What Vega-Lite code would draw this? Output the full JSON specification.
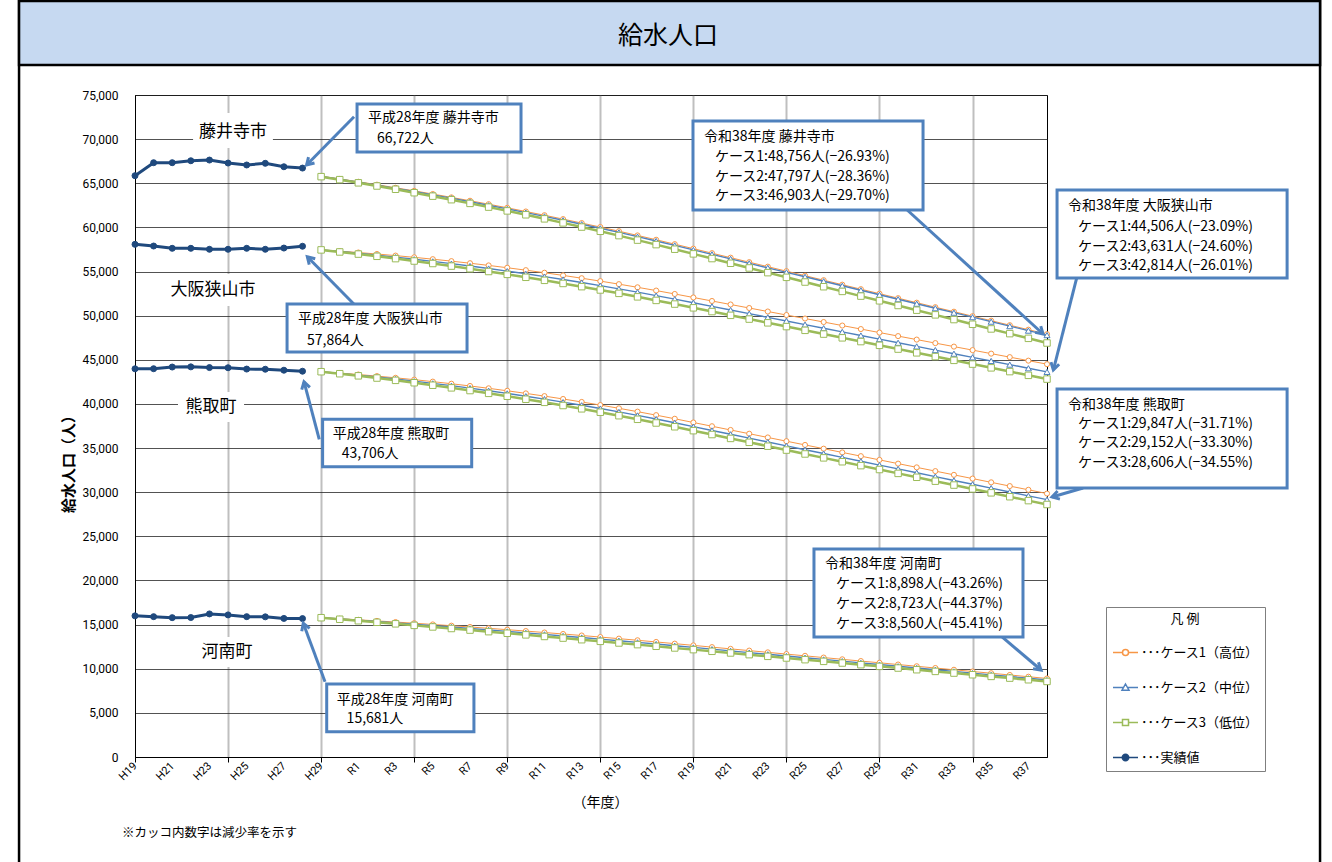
{
"$schema": "https://vega.github.io/schema/vega-lite/v6.json",
"width": 912, "height": 662,
"autosize": {"type": "none"},
"padding": {"left": 135, "top": 95, "right": 285, "bottom": 105},
"background": "white",
"config": {"font": "Noto Sans CJK JP", "view": {"stroke": "black", "strokeWidth": 1}},
"resolve": {"axis": {"x": "independent", "y": "independent"}, "legend": {"stroke": "independent", "fill": "independent", "shape": "independent"}},
"datasets": {
"pop": [
{"i":0,"city":"藤井寺市","series":"実績値","v":65860},{"i":1,"city":"藤井寺市","series":"実績値","v":67330},{"i":2,"city":"藤井寺市","series":"実績値","v":67330},{"i":3,"city":"藤井寺市","series":"実績値","v":67550},{"i":4,"city":"藤井寺市","series":"実績値","v":67630},{"i":5,"city":"藤井寺市","series":"実績値","v":67290},{"i":6,"city":"藤井寺市","series":"実績値","v":67070},{"i":7,"city":"藤井寺市","series":"実績値","v":67260},{"i":8,"city":"藤井寺市","series":"実績値","v":66870},{"i":9,"city":"藤井寺市","series":"実績値","v":66722},
{"i":0,"city":"大阪狭山市","series":"実績値","v":58080},{"i":1,"city":"大阪狭山市","series":"実績値","v":57890},{"i":2,"city":"大阪狭山市","series":"実績値","v":57630},{"i":3,"city":"大阪狭山市","series":"実績値","v":57630},{"i":4,"city":"大阪狭山市","series":"実績値","v":57520},{"i":5,"city":"大阪狭山市","series":"実績値","v":57520},{"i":6,"city":"大阪狭山市","series":"実績値","v":57630},{"i":7,"city":"大阪狭山市","series":"実績値","v":57520},{"i":8,"city":"大阪狭山市","series":"実績値","v":57660},{"i":9,"city":"大阪狭山市","series":"実績値","v":57864},
{"i":0,"city":"熊取町","series":"実績値","v":43980},{"i":1,"city":"熊取町","series":"実績値","v":43990},{"i":2,"city":"熊取町","series":"実績値","v":44180},{"i":3,"city":"熊取町","series":"実績値","v":44200},{"i":4,"city":"熊取町","series":"実績値","v":44120},{"i":5,"city":"熊取町","series":"実績値","v":44100},{"i":6,"city":"熊取町","series":"実績値","v":43950},{"i":7,"city":"熊取町","series":"実績値","v":43930},{"i":8,"city":"熊取町","series":"実績値","v":43820},{"i":9,"city":"熊取町","series":"実績値","v":43706},
{"i":0,"city":"河南町","series":"実績値","v":15990},{"i":1,"city":"河南町","series":"実績値","v":15900},{"i":2,"city":"河南町","series":"実績値","v":15790},{"i":3,"city":"河南町","series":"実績値","v":15800},{"i":4,"city":"河南町","series":"実績値","v":16210},{"i":5,"city":"河南町","series":"実績値","v":16100},{"i":6,"city":"河南町","series":"実績値","v":15900},{"i":7,"city":"河南町","series":"実績値","v":15880},{"i":8,"city":"河南町","series":"実績値","v":15700},{"i":9,"city":"河南町","series":"実績値","v":15681},
{"i":10,"city":"藤井寺市","series":"ケース1","v":65800},{"i":11,"city":"藤井寺市","series":"ケース1","v":65490},{"i":12,"city":"藤井寺市","series":"ケース1","v":65170},{"i":13,"city":"藤井寺市","series":"ケース1","v":64840},{"i":14,"city":"藤井寺市","series":"ケース1","v":64490},{"i":15,"city":"藤井寺市","series":"ケース1","v":64140},{"i":16,"city":"藤井寺市","series":"ケース1","v":63780},{"i":17,"city":"藤井寺市","series":"ケース1","v":63400},{"i":18,"city":"藤井寺市","series":"ケース1","v":63020},{"i":19,"city":"藤井寺市","series":"ケース1","v":62630},{"i":20,"city":"藤井寺市","series":"ケース1","v":62220},{"i":21,"city":"藤井寺市","series":"ケース1","v":61800},{"i":22,"city":"藤井寺市","series":"ケース1","v":61380},{"i":23,"city":"藤井寺市","series":"ケース1","v":60940},{"i":24,"city":"藤井寺市","series":"ケース1","v":60490},{"i":25,"city":"藤井寺市","series":"ケース1","v":60040},{"i":26,"city":"藤井寺市","series":"ケース1","v":59570},{"i":27,"city":"藤井寺市","series":"ケース1","v":59090},{"i":28,"city":"藤井寺市","series":"ケース1","v":58600},{"i":29,"city":"藤井寺市","series":"ケース1","v":58100},{"i":30,"city":"藤井寺市","series":"ケース1","v":57590},{"i":31,"city":"藤井寺市","series":"ケース1","v":57080},{"i":32,"city":"藤井寺市","series":"ケース1","v":56570},{"i":33,"city":"藤井寺市","series":"ケース1","v":56060},{"i":34,"city":"藤井寺市","series":"ケース1","v":55550},{"i":35,"city":"藤井寺市","series":"ケース1","v":55040},{"i":36,"city":"藤井寺市","series":"ケース1","v":54530},{"i":37,"city":"藤井寺市","series":"ケース1","v":54020},{"i":38,"city":"藤井寺市","series":"ケース1","v":53510},{"i":39,"city":"藤井寺市","series":"ケース1","v":53000},{"i":40,"city":"藤井寺市","series":"ケース1","v":52490},{"i":41,"city":"藤井寺市","series":"ケース1","v":51980},{"i":42,"city":"藤井寺市","series":"ケース1","v":51470},{"i":43,"city":"藤井寺市","series":"ケース1","v":50960},{"i":44,"city":"藤井寺市","series":"ケース1","v":50450},{"i":45,"city":"藤井寺市","series":"ケース1","v":49940},{"i":46,"city":"藤井寺市","series":"ケース1","v":49430},{"i":47,"city":"藤井寺市","series":"ケース1","v":48920},{"i":48,"city":"藤井寺市","series":"ケース1","v":48410},{"i":49,"city":"藤井寺市","series":"ケース1","v":47900},
{"i":10,"city":"藤井寺市","series":"ケース2","v":65780},{"i":11,"city":"藤井寺市","series":"ケース2","v":65460},{"i":12,"city":"藤井寺市","series":"ケース2","v":65120},{"i":13,"city":"藤井寺市","series":"ケース2","v":64780},{"i":14,"city":"藤井寺市","series":"ケース2","v":64420},{"i":15,"city":"藤井寺市","series":"ケース2","v":64060},{"i":16,"city":"藤井寺市","series":"ケース2","v":63690},{"i":17,"city":"藤井寺市","series":"ケース2","v":63310},{"i":18,"city":"藤井寺市","series":"ケース2","v":62910},{"i":19,"city":"藤井寺市","series":"ケース2","v":62510},{"i":20,"city":"藤井寺市","series":"ケース2","v":62100},{"i":21,"city":"藤井寺市","series":"ケース2","v":61680},{"i":22,"city":"藤井寺市","series":"ケース2","v":61250},{"i":23,"city":"藤井寺市","series":"ケース2","v":60810},{"i":24,"city":"藤井寺市","series":"ケース2","v":60360},{"i":25,"city":"藤井寺市","series":"ケース2","v":59900},{"i":26,"city":"藤井寺市","series":"ケース2","v":59430},{"i":27,"city":"藤井寺市","series":"ケース2","v":58950},{"i":28,"city":"藤井寺市","series":"ケース2","v":58460},{"i":29,"city":"藤井寺市","series":"ケース2","v":57960},{"i":30,"city":"藤井寺市","series":"ケース2","v":57450},{"i":31,"city":"藤井寺市","series":"ケース2","v":56945},{"i":32,"city":"藤井寺市","series":"ケース2","v":56437},{"i":33,"city":"藤井寺市","series":"ケース2","v":55928},{"i":34,"city":"藤井寺市","series":"ケース2","v":55420},{"i":35,"city":"藤井寺市","series":"ケース2","v":54912},{"i":36,"city":"藤井寺市","series":"ケース2","v":54404},{"i":37,"city":"藤井寺市","series":"ケース2","v":53896},{"i":38,"city":"藤井寺市","series":"ケース2","v":53387},{"i":39,"city":"藤井寺市","series":"ケース2","v":52879},{"i":40,"city":"藤井寺市","series":"ケース2","v":52371},{"i":41,"city":"藤井寺市","series":"ケース2","v":51863},{"i":42,"city":"藤井寺市","series":"ケース2","v":51355},{"i":43,"city":"藤井寺市","series":"ケース2","v":50846},{"i":44,"city":"藤井寺市","series":"ケース2","v":50338},{"i":45,"city":"藤井寺市","series":"ケース2","v":49830},{"i":46,"city":"藤井寺市","series":"ケース2","v":49322},{"i":47,"city":"藤井寺市","series":"ケース2","v":48814},{"i":48,"city":"藤井寺市","series":"ケース2","v":48305},{"i":49,"city":"藤井寺市","series":"ケース2","v":47797},
{"i":10,"city":"藤井寺市","series":"ケース3","v":65750},{"i":11,"city":"藤井寺市","series":"ケース3","v":65410},{"i":12,"city":"藤井寺市","series":"ケース3","v":65050},{"i":13,"city":"藤井寺市","series":"ケース3","v":64690},{"i":14,"city":"藤井寺市","series":"ケース3","v":64320},{"i":15,"city":"藤井寺市","series":"ケース3","v":63930},{"i":16,"city":"藤井寺市","series":"ケース3","v":63540},{"i":17,"city":"藤井寺市","series":"ケース3","v":63140},{"i":18,"city":"藤井寺市","series":"ケース3","v":62720},{"i":19,"city":"藤井寺市","series":"ケース3","v":62300},{"i":20,"city":"藤井寺市","series":"ケース3","v":61870},{"i":21,"city":"藤井寺市","series":"ケース3","v":61430},{"i":22,"city":"藤井寺市","series":"ケース3","v":60970},{"i":23,"city":"藤井寺市","series":"ケース3","v":60510},{"i":24,"city":"藤井寺市","series":"ケース3","v":60040},{"i":25,"city":"藤井寺市","series":"ケース3","v":59560},{"i":26,"city":"藤井寺市","series":"ケース3","v":59070},{"i":27,"city":"藤井寺市","series":"ケース3","v":58560},{"i":28,"city":"藤井寺市","series":"ケース3","v":58050},{"i":29,"city":"藤井寺市","series":"ケース3","v":57530},{"i":30,"city":"藤井寺市","series":"ケース3","v":57000},{"i":31,"city":"藤井寺市","series":"ケース3","v":56469},{"i":32,"city":"藤井寺市","series":"ケース3","v":55937},{"i":33,"city":"藤井寺市","series":"ケース3","v":55406},{"i":34,"city":"藤井寺市","series":"ケース3","v":54874},{"i":35,"city":"藤井寺市","series":"ケース3","v":54343},{"i":36,"city":"藤井寺市","series":"ケース3","v":53811},{"i":37,"city":"藤井寺市","series":"ケース3","v":53280},{"i":38,"city":"藤井寺市","series":"ケース3","v":52748},{"i":39,"city":"藤井寺市","series":"ケース3","v":52217},{"i":40,"city":"藤井寺市","series":"ケース3","v":51685},{"i":41,"city":"藤井寺市","series":"ケース3","v":51154},{"i":42,"city":"藤井寺市","series":"ケース3","v":50622},{"i":43,"city":"藤井寺市","series":"ケース3","v":50091},{"i":44,"city":"藤井寺市","series":"ケース3","v":49559},{"i":45,"city":"藤井寺市","series":"ケース3","v":49028},{"i":46,"city":"藤井寺市","series":"ケース3","v":48496},{"i":47,"city":"藤井寺市","series":"ケース3","v":47965},{"i":48,"city":"藤井寺市","series":"ケース3","v":47433},{"i":49,"city":"藤井寺市","series":"ケース3","v":46903},
{"i":10,"city":"大阪狭山市","series":"ケース1","v":57450},{"i":11,"city":"大阪狭山市","series":"ケース1","v":57309},{"i":12,"city":"大阪狭山市","series":"ケース1","v":57154},{"i":13,"city":"大阪狭山市","series":"ケース1","v":56986},{"i":14,"city":"大阪狭山市","series":"ケース1","v":56804},{"i":15,"city":"大阪狭山市","series":"ケース1","v":56609},{"i":16,"city":"大阪狭山市","series":"ケース1","v":56400},{"i":17,"city":"大阪狭山市","series":"ケース1","v":56178},{"i":18,"city":"大阪狭山市","series":"ケース1","v":55942},{"i":19,"city":"大阪狭山市","series":"ケース1","v":55693},{"i":20,"city":"大阪狭山市","series":"ケース1","v":55430},{"i":21,"city":"大阪狭山市","series":"ケース1","v":55154},{"i":22,"city":"大阪狭山市","series":"ケース1","v":54864},{"i":23,"city":"大阪狭山市","series":"ケース1","v":54561},{"i":24,"city":"大阪狭山市","series":"ケース1","v":54244},{"i":25,"city":"大阪狭山市","series":"ケース1","v":53914},{"i":26,"city":"大阪狭山市","series":"ケース1","v":53571},{"i":27,"city":"大阪狭山市","series":"ケース1","v":53213},{"i":28,"city":"大阪狭山市","series":"ケース1","v":52843},{"i":29,"city":"大阪狭山市","series":"ケース1","v":52459},{"i":30,"city":"大阪狭山市","series":"ケース1","v":52061},{"i":31,"city":"大阪狭山市","series":"ケース1","v":51663},{"i":32,"city":"大阪狭山市","series":"ケース1","v":51266},{"i":33,"city":"大阪狭山市","series":"ケース1","v":50868},{"i":34,"city":"大阪狭山市","series":"ケース1","v":50471},{"i":35,"city":"大阪狭山市","series":"ケース1","v":50073},{"i":36,"city":"大阪狭山市","series":"ケース1","v":49675},{"i":37,"city":"大阪狭山市","series":"ケース1","v":49278},{"i":38,"city":"大阪狭山市","series":"ケース1","v":48880},{"i":39,"city":"大阪狭山市","series":"ケース1","v":48483},{"i":40,"city":"大阪狭山市","series":"ケース1","v":48085},{"i":41,"city":"大阪狭山市","series":"ケース1","v":47687},{"i":42,"city":"大阪狭山市","series":"ケース1","v":47290},{"i":43,"city":"大阪狭山市","series":"ケース1","v":46892},{"i":44,"city":"大阪狭山市","series":"ケース1","v":46495},{"i":45,"city":"大阪狭山市","series":"ケース1","v":46097},{"i":46,"city":"大阪狭山市","series":"ケース1","v":45699},{"i":47,"city":"大阪狭山市","series":"ケース1","v":45302},{"i":48,"city":"大阪狭山市","series":"ケース1","v":44904},{"i":49,"city":"大阪狭山市","series":"ケース1","v":44506},
{"i":10,"city":"大阪狭山市","series":"ケース2","v":57450},{"i":11,"city":"大阪狭山市","series":"ケース2","v":57263},{"i":12,"city":"大阪狭山市","series":"ケース2","v":57065},{"i":13,"city":"大阪狭山市","series":"ケース2","v":56855},{"i":14,"city":"大阪狭山市","series":"ケース2","v":56632},{"i":15,"city":"大阪狭山市","series":"ケース2","v":56398},{"i":16,"city":"大阪狭山市","series":"ケース2","v":56152},{"i":17,"city":"大阪狭山市","series":"ケース2","v":55894},{"i":18,"city":"大阪狭山市","series":"ケース2","v":55625},{"i":19,"city":"大阪狭山市","series":"ケース2","v":55343},{"i":20,"city":"大阪狭山市","series":"ケース2","v":55050},{"i":21,"city":"大阪狭山市","series":"ケース2","v":54744},{"i":22,"city":"大阪狭山市","series":"ケース2","v":54427},{"i":23,"city":"大阪狭山市","series":"ケース2","v":54098},{"i":24,"city":"大阪狭山市","series":"ケース2","v":53757},{"i":25,"city":"大阪狭山市","series":"ケース2","v":53404},{"i":26,"city":"大阪狭山市","series":"ケース2","v":53040},{"i":27,"city":"大阪狭山市","series":"ケース2","v":52663},{"i":28,"city":"大阪狭山市","series":"ケース2","v":52275},{"i":29,"city":"大阪狭山市","series":"ケース2","v":51874},{"i":30,"city":"大阪狭山市","series":"ケース2","v":51462},{"i":31,"city":"大阪狭山市","series":"ケース2","v":51050},{"i":32,"city":"大阪狭山市","series":"ケース2","v":50638},{"i":33,"city":"大阪狭山市","series":"ケース2","v":50225},{"i":34,"city":"大阪狭山市","series":"ケース2","v":49813},{"i":35,"city":"大阪狭山市","series":"ケース2","v":49401},{"i":36,"city":"大阪狭山市","series":"ケース2","v":48989},{"i":37,"city":"大阪狭山市","series":"ケース2","v":48577},{"i":38,"city":"大阪狭山市","series":"ケース2","v":48164},{"i":39,"city":"大阪狭山市","series":"ケース2","v":47752},{"i":40,"city":"大阪狭山市","series":"ケース2","v":47340},{"i":41,"city":"大阪狭山市","series":"ケース2","v":46928},{"i":42,"city":"大阪狭山市","series":"ケース2","v":46516},{"i":43,"city":"大阪狭山市","series":"ケース2","v":46103},{"i":44,"city":"大阪狭山市","series":"ケース2","v":45691},{"i":45,"city":"大阪狭山市","series":"ケース2","v":45279},{"i":46,"city":"大阪狭山市","series":"ケース2","v":44867},{"i":47,"city":"大阪狭山市","series":"ケース2","v":44455},{"i":48,"city":"大阪狭山市","series":"ケース2","v":44042},{"i":49,"city":"大阪狭山市","series":"ケース2","v":43631},
{"i":10,"city":"大阪狭山市","series":"ケース3","v":57450},{"i":11,"city":"大阪狭山市","series":"ケース3","v":57219},{"i":12,"city":"大阪狭山市","series":"ケース3","v":56978},{"i":13,"city":"大阪狭山市","series":"ケース3","v":56726},{"i":14,"city":"大阪狭山市","series":"ケース3","v":56464},{"i":15,"city":"大阪狭山市","series":"ケース3","v":56192},{"i":16,"city":"大阪狭山市","series":"ケース3","v":55910},{"i":17,"city":"大阪狭山市","series":"ケース3","v":55618},{"i":18,"city":"大阪狭山市","series":"ケース3","v":55315},{"i":19,"city":"大阪狭山市","series":"ケース3","v":55003},{"i":20,"city":"大阪狭山市","series":"ケース3","v":54680},{"i":21,"city":"大阪狭山市","series":"ケース3","v":54347},{"i":22,"city":"大阪狭山市","series":"ケース3","v":54003},{"i":23,"city":"大阪狭山市","series":"ケース3","v":53650},{"i":24,"city":"大阪狭山市","series":"ケース3","v":53286},{"i":25,"city":"大阪狭山市","series":"ケース3","v":52912},{"i":26,"city":"大阪狭山市","series":"ケース3","v":52528},{"i":27,"city":"大阪狭山市","series":"ケース3","v":52133},{"i":28,"city":"大阪狭山市","series":"ケース3","v":51729},{"i":29,"city":"大阪狭山市","series":"ケース3","v":51314},{"i":30,"city":"大阪狭山市","series":"ケース3","v":50889},{"i":31,"city":"大阪狭山市","series":"ケース3","v":50464},{"i":32,"city":"大阪狭山市","series":"ケース3","v":50039},{"i":33,"city":"大阪狭山市","series":"ケース3","v":49614},{"i":34,"city":"大阪狭山市","series":"ケース3","v":49189},{"i":35,"city":"大阪狭山市","series":"ケース3","v":48764},{"i":36,"city":"大阪狭山市","series":"ケース3","v":48339},{"i":37,"city":"大阪狭山市","series":"ケース3","v":47914},{"i":38,"city":"大阪狭山市","series":"ケース3","v":47489},{"i":39,"city":"大阪狭山市","series":"ケース3","v":47064},{"i":40,"city":"大阪狭山市","series":"ケース3","v":46639},{"i":41,"city":"大阪狭山市","series":"ケース3","v":46214},{"i":42,"city":"大阪狭山市","series":"ケース3","v":45789},{"i":43,"city":"大阪狭山市","series":"ケース3","v":45364},{"i":44,"city":"大阪狭山市","series":"ケース3","v":44939},{"i":45,"city":"大阪狭山市","series":"ケース3","v":44514},{"i":46,"city":"大阪狭山市","series":"ケース3","v":44089},{"i":47,"city":"大阪狭山市","series":"ケース3","v":43664},{"i":48,"city":"大阪狭山市","series":"ケース3","v":43239},{"i":49,"city":"大阪狭山市","series":"ケース3","v":42814},
{"i":10,"city":"熊取町","series":"ケース1","v":43650},{"i":11,"city":"熊取町","series":"ケース1","v":43498},{"i":12,"city":"熊取町","series":"ケース1","v":43333},{"i":13,"city":"熊取町","series":"ケース1","v":43152},{"i":14,"city":"熊取町","series":"ケース1","v":42958},{"i":15,"city":"熊取町","series":"ケース1","v":42749},{"i":16,"city":"熊取町","series":"ケース1","v":42526},{"i":17,"city":"熊取町","series":"ケース1","v":42288},{"i":18,"city":"熊取町","series":"ケース1","v":42036},{"i":19,"city":"熊取町","series":"ケース1","v":41770},{"i":20,"city":"熊取町","series":"ケース1","v":41490},{"i":21,"city":"熊取町","series":"ケース1","v":41195},{"i":22,"city":"熊取町","series":"ケース1","v":40886},{"i":23,"city":"熊取町","series":"ケース1","v":40562},{"i":24,"city":"熊取町","series":"ケース1","v":40224},{"i":25,"city":"熊取町","series":"ケース1","v":39872},{"i":26,"city":"熊取町","series":"ケース1","v":39506},{"i":27,"city":"熊取町","series":"ケース1","v":39125},{"i":28,"city":"熊取町","series":"ケース1","v":38730},{"i":29,"city":"熊取町","series":"ケース1","v":38321},{"i":30,"city":"熊取町","series":"ケース1","v":37897},{"i":31,"city":"熊取町","series":"ケース1","v":37473},{"i":32,"city":"熊取町","series":"ケース1","v":37050},{"i":33,"city":"熊取町","series":"ケース1","v":36626},{"i":34,"city":"熊取町","series":"ケース1","v":36202},{"i":35,"city":"熊取町","series":"ケース1","v":35779},{"i":36,"city":"熊取町","series":"ケース1","v":35355},{"i":37,"city":"熊取町","series":"ケース1","v":34931},{"i":38,"city":"熊取町","series":"ケース1","v":34507},{"i":39,"city":"熊取町","series":"ケース1","v":34084},{"i":40,"city":"熊取町","series":"ケース1","v":33660},{"i":41,"city":"熊取町","series":"ケース1","v":33236},{"i":42,"city":"熊取町","series":"ケース1","v":32813},{"i":43,"city":"熊取町","series":"ケース1","v":32389},{"i":44,"city":"熊取町","series":"ケース1","v":31965},{"i":45,"city":"熊取町","series":"ケース1","v":31542},{"i":46,"city":"熊取町","series":"ケース1","v":31118},{"i":47,"city":"熊取町","series":"ケース1","v":30694},{"i":48,"city":"熊取町","series":"ケース1","v":30271},{"i":49,"city":"熊取町","series":"ケース1","v":29847},
{"i":10,"city":"熊取町","series":"ケース2","v":43650},{"i":11,"city":"熊取町","series":"ケース2","v":43464},{"i":12,"city":"熊取町","series":"ケース2","v":43264},{"i":13,"city":"熊取町","series":"ケース2","v":43052},{"i":14,"city":"熊取町","series":"ケース2","v":42826},{"i":15,"city":"熊取町","series":"ケース2","v":42587},{"i":16,"city":"熊取町","series":"ケース2","v":42335},{"i":17,"city":"熊取町","series":"ケース2","v":42070},{"i":18,"city":"熊取町","series":"ケース2","v":41792},{"i":19,"city":"熊取町","series":"ケース2","v":41500},{"i":20,"city":"熊取町","series":"ケース2","v":41196},{"i":21,"city":"熊取町","series":"ケース2","v":40878},{"i":22,"city":"熊取町","series":"ケース2","v":40548},{"i":23,"city":"熊取町","series":"ケース2","v":40204},{"i":24,"city":"熊取町","series":"ケース2","v":39847},{"i":25,"city":"熊取町","series":"ケース2","v":39477},{"i":26,"city":"熊取町","series":"ケース2","v":39094},{"i":27,"city":"熊取町","series":"ケース2","v":38698},{"i":28,"city":"熊取町","series":"ケース2","v":38288},{"i":29,"city":"熊取町","series":"ケース2","v":37866},{"i":30,"city":"熊取町","series":"ケース2","v":37430},{"i":31,"city":"熊取町","series":"ケース2","v":36994},{"i":32,"city":"熊取町","series":"ケース2","v":36559},{"i":33,"city":"熊取町","series":"ケース2","v":36123},{"i":34,"city":"熊取町","series":"ケース2","v":35688},{"i":35,"city":"熊取町","series":"ケース2","v":35252},{"i":36,"city":"熊取町","series":"ケース2","v":34816},{"i":37,"city":"熊取町","series":"ケース2","v":34381},{"i":38,"city":"熊取町","series":"ケース2","v":33945},{"i":39,"city":"熊取町","series":"ケース2","v":33510},{"i":40,"city":"熊取町","series":"ケース2","v":33074},{"i":41,"city":"熊取町","series":"ケース2","v":32638},{"i":42,"city":"熊取町","series":"ケース2","v":32203},{"i":43,"city":"熊取町","series":"ケース2","v":31767},{"i":44,"city":"熊取町","series":"ケース2","v":31332},{"i":45,"city":"熊取町","series":"ケース2","v":30896},{"i":46,"city":"熊取町","series":"ケース2","v":30460},{"i":47,"city":"熊取町","series":"ケース2","v":30025},{"i":48,"city":"熊取町","series":"ケース2","v":29589},{"i":49,"city":"熊取町","series":"ケース2","v":29152},
{"i":10,"city":"熊取町","series":"ケース3","v":43650},{"i":11,"city":"熊取町","series":"ケース3","v":43423},{"i":12,"city":"熊取町","series":"ケース3","v":43184},{"i":13,"city":"熊取町","series":"ケース3","v":42934},{"i":14,"city":"熊取町","series":"ケース3","v":42673},{"i":15,"city":"熊取町","series":"ケース3","v":42401},{"i":16,"city":"熊取町","series":"ケース3","v":42118},{"i":17,"city":"熊取町","series":"ケース3","v":41823},{"i":18,"city":"熊取町","series":"ケース3","v":41517},{"i":19,"city":"熊取町","series":"ケース3","v":41200},{"i":20,"city":"熊取町","series":"ケース3","v":40872},{"i":21,"city":"熊取町","series":"ケース3","v":40532},{"i":22,"city":"熊取町","series":"ケース3","v":40182},{"i":23,"city":"熊取町","series":"ケース3","v":39820},{"i":24,"city":"熊取町","series":"ケース3","v":39447},{"i":25,"city":"熊取町","series":"ケース3","v":39062},{"i":26,"city":"熊取町","series":"ケース3","v":38667},{"i":27,"city":"熊取町","series":"ケース3","v":38260},{"i":28,"city":"熊取町","series":"ケース3","v":37842},{"i":29,"city":"熊取町","series":"ケース3","v":37413},{"i":30,"city":"熊取町","series":"ケース3","v":36973},{"i":31,"city":"熊取町","series":"ケース3","v":36533},{"i":32,"city":"熊取町","series":"ケース3","v":36093},{"i":33,"city":"熊取町","series":"ケース3","v":35652},{"i":34,"city":"熊取町","series":"ケース3","v":35212},{"i":35,"city":"熊取町","series":"ケース3","v":34772},{"i":36,"city":"熊取町","series":"ケース3","v":34331},{"i":37,"city":"熊取町","series":"ケース3","v":33891},{"i":38,"city":"熊取町","series":"ケース3","v":33451},{"i":39,"city":"熊取町","series":"ケース3","v":33011},{"i":40,"city":"熊取町","series":"ケース3","v":32570},{"i":41,"city":"熊取町","series":"ケース3","v":32130},{"i":42,"city":"熊取町","series":"ケース3","v":31690},{"i":43,"city":"熊取町","series":"ケース3","v":31249},{"i":44,"city":"熊取町","series":"ケース3","v":30809},{"i":45,"city":"熊取町","series":"ケース3","v":30369},{"i":46,"city":"熊取町","series":"ケース3","v":29928},{"i":47,"city":"熊取町","series":"ケース3","v":29488},{"i":48,"city":"熊取町","series":"ケース3","v":29048},{"i":49,"city":"熊取町","series":"ケース3","v":28606},
{"i":10,"city":"河南町","series":"ケース1","v":15780},{"i":11,"city":"河南町","series":"ケース1","v":15664},{"i":12,"city":"河南町","series":"ケース1","v":15543},{"i":13,"city":"河南町","series":"ケース1","v":15418},{"i":14,"city":"河南町","series":"ケース1","v":15289},{"i":15,"city":"河南町","series":"ケース1","v":15156},{"i":16,"city":"河南町","series":"ケース1","v":15018},{"i":17,"city":"河南町","series":"ケース1","v":14877},{"i":18,"city":"河南町","series":"ケース1","v":14730},{"i":19,"city":"河南町","series":"ケース1","v":14580},{"i":20,"city":"河南町","series":"ケース1","v":14425},{"i":21,"city":"河南町","series":"ケース1","v":14267},{"i":22,"city":"河南町","series":"ケース1","v":14103},{"i":23,"city":"河南町","series":"ケース1","v":13936},{"i":24,"city":"河南町","series":"ケース1","v":13764},{"i":25,"city":"河南町","series":"ケース1","v":13588},{"i":26,"city":"河南町","series":"ケース1","v":13408},{"i":27,"city":"河南町","series":"ケース1","v":13224},{"i":28,"city":"河南町","series":"ケース1","v":13035},{"i":29,"city":"河南町","series":"ケース1","v":12842},{"i":30,"city":"河南町","series":"ケース1","v":12645},{"i":31,"city":"河南町","series":"ケース1","v":12448},{"i":32,"city":"河南町","series":"ケース1","v":12251},{"i":33,"city":"河南町","series":"ケース1","v":12053},{"i":34,"city":"河南町","series":"ケース1","v":11856},{"i":35,"city":"河南町","series":"ケース1","v":11659},{"i":36,"city":"河南町","series":"ケース1","v":11462},{"i":37,"city":"河南町","series":"ケース1","v":11265},{"i":38,"city":"河南町","series":"ケース1","v":11067},{"i":39,"city":"河南町","series":"ケース1","v":10870},{"i":40,"city":"河南町","series":"ケース1","v":10673},{"i":41,"city":"河南町","series":"ケース1","v":10476},{"i":42,"city":"河南町","series":"ケース1","v":10279},{"i":43,"city":"河南町","series":"ケース1","v":10081},{"i":44,"city":"河南町","series":"ケース1","v":9884},{"i":45,"city":"河南町","series":"ケース1","v":9687},{"i":46,"city":"河南町","series":"ケース1","v":9490},{"i":47,"city":"河南町","series":"ケース1","v":9293},{"i":48,"city":"河南町","series":"ケース1","v":9095},{"i":49,"city":"河南町","series":"ケース1","v":8898},
{"i":10,"city":"河南町","series":"ケース2","v":15780},{"i":11,"city":"河南町","series":"ケース2","v":15638},{"i":12,"city":"河南町","series":"ケース2","v":15493},{"i":13,"city":"河南町","series":"ケース2","v":15345},{"i":14,"city":"河南町","series":"ケース2","v":15194},{"i":15,"city":"河南町","series":"ケース2","v":15041},{"i":16,"city":"河南町","series":"ケース2","v":14885},{"i":17,"city":"河南町","series":"ケース2","v":14726},{"i":18,"city":"河南町","series":"ケース2","v":14565},{"i":19,"city":"河南町","series":"ケース2","v":14400},{"i":20,"city":"河南町","series":"ケース2","v":14233},{"i":21,"city":"河南町","series":"ケース2","v":14064},{"i":22,"city":"河南町","series":"ケース2","v":13891},{"i":23,"city":"河南町","series":"ケース2","v":13716},{"i":24,"city":"河南町","series":"ケース2","v":13538},{"i":25,"city":"河南町","series":"ケース2","v":13358},{"i":26,"city":"河南町","series":"ケース2","v":13174},{"i":27,"city":"河南町","series":"ケース2","v":12988},{"i":28,"city":"河南町","series":"ケース2","v":12800},{"i":29,"city":"河南町","series":"ケース2","v":12608},{"i":30,"city":"河南町","series":"ケース2","v":12414},{"i":31,"city":"河南町","series":"ケース2","v":12220},{"i":32,"city":"河南町","series":"ケース2","v":12026},{"i":33,"city":"河南町","series":"ケース2","v":11831},{"i":34,"city":"河南町","series":"ケース2","v":11637},{"i":35,"city":"河南町","series":"ケース2","v":11443},{"i":36,"city":"河南町","series":"ケース2","v":11249},{"i":37,"city":"河南町","series":"ケース2","v":11055},{"i":38,"city":"河南町","series":"ケース2","v":10860},{"i":39,"city":"河南町","series":"ケース2","v":10666},{"i":40,"city":"河南町","series":"ケース2","v":10472},{"i":41,"city":"河南町","series":"ケース2","v":10278},{"i":42,"city":"河南町","series":"ケース2","v":10084},{"i":43,"city":"河南町","series":"ケース2","v":9889},{"i":44,"city":"河南町","series":"ケース2","v":9695},{"i":45,"city":"河南町","series":"ケース2","v":9501},{"i":46,"city":"河南町","series":"ケース2","v":9307},{"i":47,"city":"河南町","series":"ケース2","v":9113},{"i":48,"city":"河南町","series":"ケース2","v":8918},{"i":49,"city":"河南町","series":"ケース2","v":8723},
{"i":10,"city":"河南町","series":"ケース3","v":15780},{"i":11,"city":"河南町","series":"ケース3","v":15608},{"i":12,"city":"河南町","series":"ケース3","v":15436},{"i":13,"city":"河南町","series":"ケース3","v":15262},{"i":14,"city":"河南町","series":"ケース3","v":15087},{"i":15,"city":"河南町","series":"ケース3","v":14912},{"i":16,"city":"河南町","series":"ケース3","v":14735},{"i":17,"city":"河南町","series":"ケース3","v":14558},{"i":18,"city":"河南町","series":"ケース3","v":14379},{"i":19,"city":"河南町","series":"ケース3","v":14200},{"i":20,"city":"河南町","series":"ケース3","v":14020},{"i":21,"city":"河南町","series":"ケース3","v":13838},{"i":22,"city":"河南町","series":"ケース3","v":13656},{"i":23,"city":"河南町","series":"ケース3","v":13473},{"i":24,"city":"河南町","series":"ケース3","v":13289},{"i":25,"city":"河南町","series":"ケース3","v":13104},{"i":26,"city":"河南町","series":"ケース3","v":12918},{"i":27,"city":"河南町","series":"ケース3","v":12731},{"i":28,"city":"河南町","series":"ケース3","v":12544},{"i":29,"city":"河南町","series":"ケース3","v":12355},{"i":30,"city":"河南町","series":"ケース3","v":12165},{"i":31,"city":"河南町","series":"ケース3","v":11975},{"i":32,"city":"河南町","series":"ケース3","v":11786},{"i":33,"city":"河南町","series":"ケース3","v":11596},{"i":34,"city":"河南町","series":"ケース3","v":11406},{"i":35,"city":"河南町","series":"ケース3","v":11217},{"i":36,"city":"河南町","series":"ケース3","v":11027},{"i":37,"city":"河南町","series":"ケース3","v":10837},{"i":38,"city":"河南町","series":"ケース3","v":10647},{"i":39,"city":"河南町","series":"ケース3","v":10458},{"i":40,"city":"河南町","series":"ケース3","v":10268},{"i":41,"city":"河南町","series":"ケース3","v":10079},{"i":42,"city":"河南町","series":"ケース3","v":9889},{"i":43,"city":"河南町","series":"ケース3","v":9699},{"i":44,"city":"河南町","series":"ケース3","v":9509},{"i":45,"city":"河南町","series":"ケース3","v":9320},{"i":46,"city":"河南町","series":"ケース3","v":9130},{"i":47,"city":"河南町","series":"ケース3","v":8940},{"i":48,"city":"河南町","series":"ケース3","v":8751},{"i":49,"city":"河南町","series":"ケース3","v":8560}
],
"frame": [{"x0":-6.23,"x1":63.67,"y0":85647,"y1":-14000}],
"header": [{"x0":-6.23,"x1":63.67,"y0":85647,"y1":78397}],
"heading": [{"x":28.64,"y":81700,"text":"給水人口"}],
"footnote": [{"x":-0.7,"y":-8610,"text":"※カッコ内数字は減少率を示す"}],
"cities": [
{"x":5.27,"y":70841,"x0":3.12,"x1":7.41,"y0":72959,"y1":68994,"text":"藤井寺市"},
{"x":4.19,"y":52906,"x0":1.61,"x1":6.77,"y0":54719,"y1":51094,"text":"大阪狭山市"},
{"x":4.08,"y":39652,"x0":2.31,"x1":5.86,"y0":41351,"y1":37952,"text":"熊取町"},
{"x":4.94,"y":11895,"x0":3.17,"x1":6.72,"y0":13595,"y1":10196,"text":"河南町"}
],
"arrows": [
{"sx":11.77,"sy":72540,"tx":9.22,"ty":67068},
{"sx":41.37,"sy":62196,"tx":48.79,"ty":47922},
{"sx":50.6,"sy":54300,"tx":49.34,"ty":43843},
{"sx":50.94,"sy":30475,"tx":49.27,"ty":29455},
{"sx":46.57,"sy":13629,"tx":48.68,"ty":9856},
{"sx":11.77,"sy":51286,"tx":9.26,"ty":56679},
{"sx":9.9,"sy":35992,"tx":9.08,"ty":42518},
{"sx":10.21,"sy":8531,"tx":9.04,"ty":15147}
],
"boxes": [
{"x0":11.93,"x1":20.74,"y0":73978,"y1":68540},
{"x0":29.98,"x1":42.34,"y0":72052,"y1":61970},
{"x0":49.54,"x1":61.9,"y0":64235,"y1":54266},
{"x0":49.54,"x1":61.9,"y0":41691,"y1":30475},
{"x0":36.48,"x1":47.71,"y0":23564,"y1":13595},
{"x0":8.17,"x1":17.84,"y0":51320,"y1":45882},
{"x0":10.08,"x1":18.09,"y0":38258,"y1":32888},
{"x0":10.3,"x1":18.21,"y0":8270,"y1":2866}
],
"notes": [
{"x":12.52,"y":72392,"text":"平成28年度 藤井寺市"},
{"x":13.0,"y":70013,"text":"66,722人"},
{"x":30.57,"y":70273,"text":"令和38年度 藤井寺市"},
{"x":31.16,"y":67940,"text":"ケース1:48,756人(−26.93%)"},
{"x":31.16,"y":65742,"text":"ケース2:47,797人(−28.36%)"},
{"x":31.16,"y":63590,"text":"ケース3:46,903人(−29.70%)"},
{"x":50.13,"y":62457,"text":"令和38年度 大阪狭山市"},
{"x":50.67,"y":60078,"text":"ケース1:44,506人(−23.09%)"},
{"x":50.67,"y":57812,"text":"ケース2:43,631人(−24.60%)"},
{"x":50.67,"y":55625,"text":"ケース3:42,814人(−26.01%)"},
{"x":50.13,"y":39878,"text":"令和38年度 熊取町"},
{"x":50.67,"y":37692,"text":"ケース1:29,847人(−31.71%)"},
{"x":50.67,"y":35539,"text":"ケース2:29,152人(−33.30%)"},
{"x":50.67,"y":33273,"text":"ケース3:28,606人(−34.55%)"},
{"x":37.07,"y":21865,"text":"令和38年度 河南町"},
{"x":37.66,"y":19565,"text":"ケース1:8,898人(−43.26%)"},
{"x":37.66,"y":17333,"text":"ケース2:8,723人(−44.37%)"},
{"x":37.66,"y":15034,"text":"ケース3:8,560人(−45.41%)"},
{"x":8.76,"y":49621,"text":"平成28年度 大阪狭山市"},
{"x":9.24,"y":47129,"text":"57,864人"},
{"x":10.62,"y":36593,"text":"平成28年度 熊取町"},
{"x":11.11,"y":34293,"text":"43,706人"},
{"x":10.84,"y":6458,"text":"平成28年度 河南町"},
{"x":11.37,"y":4271,"text":"15,681人"}
]
},
"layer": [
{"data": {"name": "frame"}, "mark": {"type": "rect", "fill": "transparent", "stroke": "black", "strokeWidth": 2.5},
 "encoding": {"x": {"field": "x0", "type": "quantitative", "scale": {"domain": [0, 49]}, "axis": null, "title": null}, "x2": {"field": "x1"},
  "y": {"field": "y0", "type": "quantitative", "scale": {"domain": [0, 75000]}, "axis": null, "title": null}, "y2": {"field": "y1"}}},
{"data": {"name": "header"}, "mark": {"type": "rect", "fill": "#c6d9f1", "stroke": "black", "strokeWidth": 2.5},
 "encoding": {"x": {"field": "x0", "type": "quantitative", "scale": {"domain": [0, 49]}, "axis": null, "title": null}, "x2": {"field": "x1"},
  "y": {"field": "y0", "type": "quantitative", "scale": {"domain": [0, 75000]}, "axis": null, "title": null}, "y2": {"field": "y1"}}},
{"data": {"name": "heading"}, "mark": {"type": "text", "fontSize": 25, "align": "center", "baseline": "middle", "color": "black"},
 "encoding": {"x": {"field": "x", "type": "quantitative", "scale": {"domain": [0, 49]}, "axis": null, "title": null},
  "y": {"field": "y", "type": "quantitative", "scale": {"domain": [0, 75000]}, "axis": null, "title": null}, "text": {"field": "text"}}},
{"data": {"name": "pop"},
 "transform": [{"filter": "datum.series == 'ケース1'"}],
 "encoding": {
  "x": {"field": "i", "type": "quantitative", "title": "（年度）", "scale": {"domain": [0, 49]},
   "axis": {"orient": "bottom", "values": [0,1,2,3,4,5,6,7,8,9,10,11,12,13,14,15,16,17,18,19,20,21,22,23,24,25,26,27,28,29,30,31,32,33,34,35,36,37,38,39,40,41,42,43,44,45,46,47,48],
    "labelExpr": "datum.value % 2 == 0 ? (datum.value < 12 ? 'H' + (19 + datum.value) : 'R' + (datum.value - 11)) : ''",
    "labelAngle": -45, "labelAlign": "right", "labelBaseline": "middle", "labelFont": "Roboto", "labelFontSize": 11, "labelColor": "black", "labelPadding": 2, "labelOverlap": false, "labelFlush": false,
    "tickSize": 5, "tickColor": "black", "tickOpacity": {"condition": {"test": "datum.value % 5 == 0", "value": 1}, "value": 0},
    "grid": true, "gridColor": "#bfbfbf", "gridWidth": 2, "gridOpacity": {"condition": {"test": "datum.value % 5 == 0 && datum.value > 0", "value": 1}, "value": 0},
    "domainColor": "black", "domainWidth": 1,
    "titleFontSize": 14, "titleFontWeight": "normal", "titleColor": "black", "titleX": 465, "titleY": 45, "titleBaseline": "middle", "titleAlign": "center"}},
  "y": {"field": "v", "type": "quantitative", "title": "給水人口（人）", "scale": {"domain": [0, 75000]},
   "axis": {"orient": "left", "values": [0,5000,10000,15000,20000,25000,30000,35000,40000,45000,50000,55000,60000,65000,70000,75000],
    "labelExpr": "format(datum.value, ',')",
    "labelFont": "Roboto", "labelFontSize": 12, "labelColor": "black", "ticks": false, "tickSize": 0, "labelPadding": 17,
    "grid": true, "gridColor": "#262626", "gridWidth": 0.8, "domainColor": "black", "domainWidth": 1,
    "titleFontSize": 15, "titleFontWeight": "bold", "titleColor": "black", "titleX": -67, "titleY": 365, "titleAngle": -90, "titleBaseline": "middle", "titleAlign": "center"}},
  "detail": {"field": "city"},
  "stroke": {"field": "series", "type": "nominal", "scale": {"domain": ["ケース1", "ケース2", "ケース3", "実績値"], "range": ["#f79646", "#4f81bd", "#9bbb59", "#1f497d"]}, "legend": null}
 },
 "layer": [
  {"mark": {"type": "line", "strokeWidth": 1}},
  {"mark": {"type": "point", "shape": "circle", "filled": true, "fill": "white", "size": 26, "strokeWidth": 1, "opacity": 1}}
 ]},
{"data": {"name": "pop"},
 "transform": [{"filter": "datum.series == 'ケース2'"}],
 "encoding": {
  "x": {"field": "i", "type": "quantitative", "scale": {"domain": [0, 49]}, "axis": null, "title": null},
  "y": {"field": "v", "type": "quantitative", "scale": {"domain": [0, 75000]}, "axis": null, "title": null},
  "detail": {"field": "city"},
  "stroke": {"field": "series", "type": "nominal", "scale": {"domain": ["ケース1", "ケース2", "ケース3", "実績値"], "range": ["#f79646", "#4f81bd", "#9bbb59", "#1f497d"]}, "legend": null}
 },
 "layer": [
  {"mark": {"type": "line", "strokeWidth": 1.4}},
  {"mark": {"type": "point", "shape": "triangle-up", "filled": true, "fill": "white", "size": 36, "strokeWidth": 1, "opacity": 1}}
 ]},
{"data": {"name": "pop"},
 "transform": [{"filter": "datum.series == 'ケース3'"}],
 "encoding": {
  "x": {"field": "i", "type": "quantitative", "scale": {"domain": [0, 49]}, "axis": null, "title": null},
  "y": {"field": "v", "type": "quantitative", "scale": {"domain": [0, 75000]}, "axis": null, "title": null},
  "detail": {"field": "city"},
  "stroke": {"field": "series", "type": "nominal", "scale": {"domain": ["ケース1", "ケース2", "ケース3", "実績値"], "range": ["#f79646", "#4f81bd", "#9bbb59", "#1f497d"]}, "legend": null}
 },
 "layer": [
  {"mark": {"type": "line", "strokeWidth": 2.5}},
  {"mark": {"type": "point", "shape": "square", "filled": true, "fill": "white", "size": 42, "strokeWidth": 1, "opacity": 1}}
 ]},
{"data": {"name": "pop"},
 "transform": [{"filter": "datum.series == '実績値'"}],
 "encoding": {
  "x": {"field": "i", "type": "quantitative", "scale": {"domain": [0, 49]}, "axis": null, "title": null},
  "y": {"field": "v", "type": "quantitative", "scale": {"domain": [0, 75000]}, "axis": null, "title": null},
  "detail": {"field": "city"},
  "stroke": {"field": "series", "type": "nominal", "scale": {"domain": ["ケース1", "ケース2", "ケース3", "実績値"], "range": ["#f79646", "#4f81bd", "#9bbb59", "#1f497d"]}, "legend": null}
 },
 "layer": [
  {"mark": {"type": "line", "strokeWidth": 3}},
  {"mark": {"type": "point", "shape": "circle", "filled": true, "fill": "#1f497d", "size": 36, "strokeWidth": 1, "opacity": 1}}
 ]},
{"data": {"name": "pop"},
 "transform": [{"filter": "datum.i < 0"}],
 "mark": {"type": "point", "filled": true, "size": 625, "strokeWidth": 1.5, "opacity": 1},
 "encoding": {
  "x": {"field": "i", "type": "quantitative", "scale": {"domain": [0, 49]}, "axis": null, "title": null},
  "y": {"field": "v", "type": "quantitative", "scale": {"domain": [0, 75000]}, "axis": null, "title": null},
  "stroke": {"field": "series", "type": "nominal", "title": "凡 例", "scale": {"domain": ["ケース1", "ケース2", "ケース3", "実績値"], "range": ["#f79646", "#4f81bd", "#9bbb59", "#1f497d"]},
   "legend": {"orient": "none", "legendX": 971, "legendY": 512, "direction": "vertical", "strokeColor": "#7f7f7f", "fillColor": "white", "padding": 6,
    "titleAnchor": "middle", "titleFontSize": 13, "titleFontWeight": "normal", "titleColor": "black", "titlePadding": 13,
    "labelFontSize": 13, "labelColor": "black", "labelOffset": 2, "rowPadding": 14, "symbolSize": 625, "symbolStrokeWidth": 1.5, "symbolOpacity": 1,
    "labelExpr": "'･･･' + datum.label + (datum.label == 'ケース1' ? '（高位）' : datum.label == 'ケース2' ? '（中位）' : datum.label == 'ケース3' ? '（低位）' : '')"}},
  "fill": {"field": "series", "type": "nominal", "title": "凡 例", "scale": {"domain": ["ケース1", "ケース2", "ケース3", "実績値"], "range": ["white", "white", "white", "#1f497d"]}},
  "shape": {"field": "series", "type": "nominal", "title": "凡 例", "scale": {"domain": ["ケース1", "ケース2", "ケース3", "実績値"], "range": [
   "M-1 0H-0.24M0.24 0H1M0.24 0A0.24 0.24 0 1 1 -0.24 0A0.24 0.24 0 1 1 0.24 0Z",
   "M-1 0H-0.2M0.2 0H1M0 -0.28L0.28 0.22L-0.28 0.22Z",
   "M-1 0H-0.24M0.24 0H1M-0.24 -0.24H0.24V0.24H-0.24Z",
   "M-1 0H1M0.26 0A0.26 0.26 0 1 1 -0.26 0A0.26 0.26 0 1 1 0.26 0Z"]}}
 }},
{"data": {"name": "cities"}, "mark": {"type": "rect", "fill": "white"},
 "encoding": {"x": {"field": "x0", "type": "quantitative", "scale": {"domain": [0, 49]}, "axis": null, "title": null}, "x2": {"field": "x1"},
  "y": {"field": "y0", "type": "quantitative", "scale": {"domain": [0, 75000]}, "axis": null, "title": null}, "y2": {"field": "y1"}}},
{"data": {"name": "cities"}, "mark": {"type": "text", "fontSize": 17, "align": "center", "baseline": "middle", "color": "black"},
 "encoding": {"x": {"field": "x", "type": "quantitative", "scale": {"domain": [0, 49]}, "axis": null, "title": null},
  "y": {"field": "y", "type": "quantitative", "scale": {"domain": [0, 75000]}, "axis": null, "title": null}, "text": {"field": "text"}}},
{"data": {"name": "arrows"}, "mark": {"type": "rule", "stroke": "#4f81bd", "strokeWidth": 3},
 "encoding": {"x": {"field": "sx", "type": "quantitative", "scale": {"domain": [0, 49]}, "axis": null, "title": null}, "x2": {"field": "tx"},
  "y": {"field": "sy", "type": "quantitative", "scale": {"domain": [0, 75000]}, "axis": null, "title": null}, "y2": {"field": "ty"}}},
{"data": {"name": "arrows"}, "mark": {"type": "point", "shape": "M-1 -0.6L0 0L-1 0.6", "filled": false, "stroke": "#4f81bd", "strokeWidth": 3, "size": 196, "opacity": 1,
  "angle": {"expr": "atan2(scale('y', datum.ty) - scale('y', datum.sy), scale('x', datum.tx) - scale('x', datum.sx)) * 180 / PI"}},
 "encoding": {"x": {"field": "tx", "type": "quantitative", "scale": {"domain": [0, 49]}, "axis": null, "title": null},
  "y": {"field": "ty", "type": "quantitative", "scale": {"domain": [0, 75000]}, "axis": null, "title": null}}},
{"data": {"name": "boxes"}, "mark": {"type": "rect", "fill": "white", "stroke": "#4f81bd", "strokeWidth": 3},
 "encoding": {"x": {"field": "x0", "type": "quantitative", "scale": {"domain": [0, 49]}, "axis": null, "title": null}, "x2": {"field": "x1"},
  "y": {"field": "y0", "type": "quantitative", "scale": {"domain": [0, 75000]}, "axis": null, "title": null}, "y2": {"field": "y1"}}},
{"data": {"name": "notes"}, "mark": {"type": "text", "fontSize": 14, "align": "left", "baseline": "middle", "color": "black"},
 "encoding": {"x": {"field": "x", "type": "quantitative", "scale": {"domain": [0, 49]}, "axis": null, "title": null},
  "y": {"field": "y", "type": "quantitative", "scale": {"domain": [0, 75000]}, "axis": null, "title": null}, "text": {"field": "text"}}},
{"data": {"name": "footnote"}, "mark": {"type": "text", "fontSize": 12.5, "align": "left", "baseline": "middle", "color": "black"},
 "encoding": {"x": {"field": "x", "type": "quantitative", "scale": {"domain": [0, 49]}, "axis": null, "title": null},
  "y": {"field": "y", "type": "quantitative", "scale": {"domain": [0, 75000]}, "axis": null, "title": null}, "text": {"field": "text"}}}
]
}
